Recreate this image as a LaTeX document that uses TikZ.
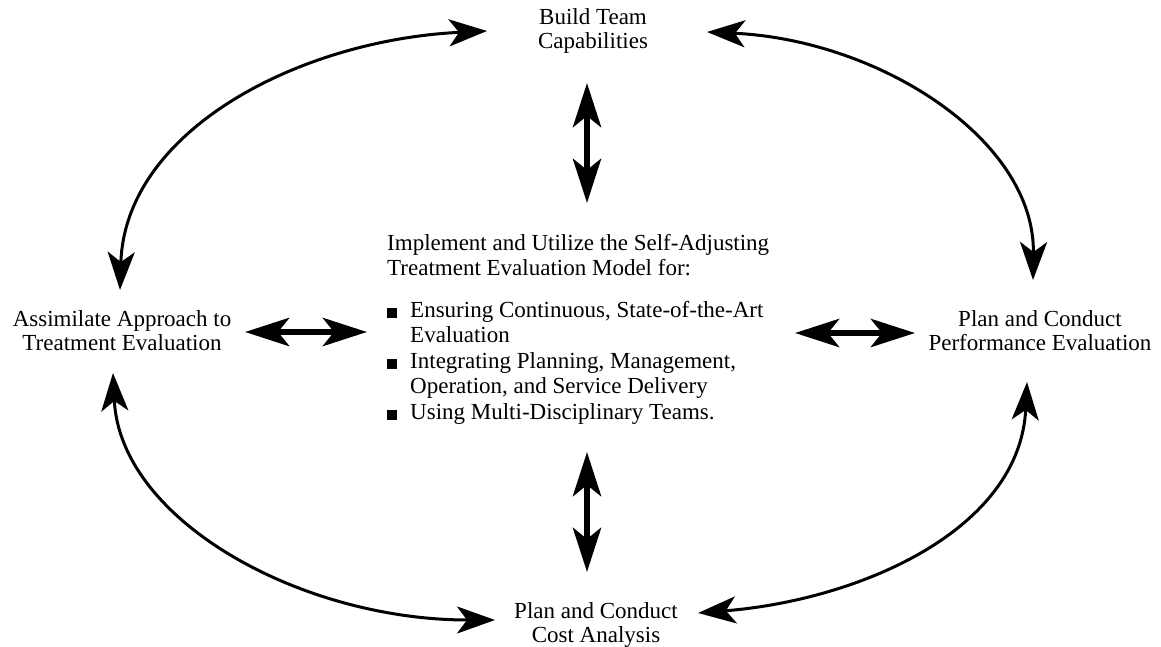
\documentclass[tikz,border=0pt]{standalone}
\usepackage{fontspec}
\setmainfont{Liberation Serif}
\usetikzlibrary{arrows.meta}
\newcommand\sqbul{\rule[-1pt]{10pt}{10pt}\hspace{13pt}}
\begin{document}
\begin{tikzpicture}[x=1pt,y=-1pt,
  lbl/.style={font=\fontsize{23}{24}\selectfont, align=center, inner sep=0pt},
  body/.style={font=\fontsize{23}{25.5}\selectfont, align=left, inner sep=0pt, anchor=north west},
  arc/.style={line width=3pt,
    {Stealth[length=38pt,width=27pt,inset=10pt]}-{Stealth[length=38pt,width=27pt,inset=10pt]}},
  bigarrow/.style={line width=6.5pt,
    {Stealth[length=44pt,width=28pt,inset=11pt]}-{Stealth[length=44pt,width=28pt,inset=11pt]}},
]
\useasboundingbox (0,0) rectangle (1161,647);

% outer labels
\node[lbl] (top)    at (593,31)  {Build Team\\Capabilities};
\node[lbl] (left)   at (122,331) {Assimilate Approach to\\Treatment Evaluation};
\node[lbl] (right)  at (1040,331) {Plan and Conduct\\Performance Evaluation};
\node[lbl] (bottom) at (596,625) {Plan and Conduct\\Cost Analysis};

% central statement
\node[body] (model) at (387,234) {Implement and Utilize the Self-Adjusting\\
Treatment Evaluation Model for:\\[16pt]
\sqbul Ensuring Continuous, State-of-the-Art\\
\hspace*{23pt}Evaluation\\
\sqbul Integrating Planning, Management,\\
\hspace*{23pt}Operation, and Service Delivery\\
\sqbul Using Multi-Disciplinary Teams.};

% arrow end points
\coordinate (tl-a) at (120,290);
\coordinate (tl-b) at (487,31);
\coordinate (tr-a) at (707,32);
\coordinate (tr-b) at (1033,280);
\coordinate (bl-a) at (113,373);
\coordinate (bl-b) at (495,620);
\coordinate (br-a) at (1027,382);
\coordinate (br-b) at (698,613);

\coordinate (vt-a) at (587,83);
\coordinate (vt-b) at (587,203);
\coordinate (vb-a) at (587,452);
\coordinate (vb-b) at (587,572);
\coordinate (hl-a) at (245,332);
\coordinate (hl-b) at (367,332);
\coordinate (hr-a) at (795,333);
\coordinate (hr-b) at (915,333);

% curved links around the model
\draw[arc] (tl-a) .. controls (125,130) and (300,40) .. (tl-b);
\draw[arc] (tr-a) .. controls (880,40) and (1035,140) .. (tr-b);
\draw[arc] (bl-a) .. controls (120,520) and (300,620) .. (bl-b);
\draw[arc] (br-a) .. controls (1020,530) and (860,600) .. (br-b);

% straight links to the centre
\draw[bigarrow] (vt-a) -- (vt-b);
\draw[bigarrow] (vb-a) -- (vb-b);
\draw[bigarrow] (hl-a) -- (hl-b);
\draw[bigarrow] (hr-a) -- (hr-b);
\end{tikzpicture}
\end{document}
